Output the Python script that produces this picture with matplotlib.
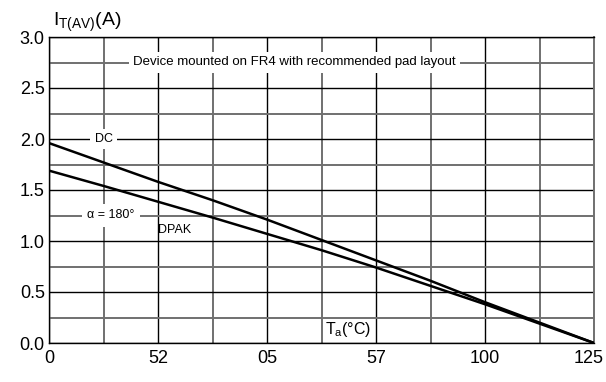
import numpy as np
import matplotlib.pyplot as plt
import matplotlib.transforms as mtransforms
from matplotlib.ticker import MultipleLocator

plt.rcParams['font.family'] = ['Liberation Sans', 'DejaVu Sans']
plt.rcParams['mathtext.fontset'] = 'custom'
plt.rcParams['mathtext.rm'] = 'Liberation Sans'

# ambient temperature (°C) and average on-state current (A)
ta = [0, 12.5, 25, 37.5, 50, 62.5, 75, 87.5, 100, 112.5, 125]
i_dc = [1.96, 1.77, 1.58, 1.40, 1.21, 1.01, 0.81, 0.61, 0.40, 0.20, 0.0]
i_180 = [1.69, 1.54, 1.385, 1.23, 1.07, 0.91, 0.74, 0.56, 0.38, 0.19, 0.0]

xticks = [0, 25, 50, 75, 100, 125]
xticklabels = ['0', '52', '05', '57', '100', '125']
yticks = [0.0, 0.5, 1.0, 1.5, 2.0, 2.5, 3.0]
yticklabels = ['0.0', '0.5', '1.0', '1.5', '2.0', '2.5', '3.0']

fig = plt.figure(figsize=(6.06, 3.82), dpi=100)
ax = fig.add_axes([49/606, 39/382, 545/606, 306/382])

ax.set_xlim(0, 125)
ax.set_ylim(0, 3.0)

ax.xaxis.set_minor_locator(MultipleLocator(12.5))
ax.yaxis.set_minor_locator(MultipleLocator(0.25))
ax.grid(which='minor', color='#707070', lw=1.4, zorder=0)
ax.grid(which='major', color='black', lw=1.0, zorder=0)
ax.set_axisbelow(True)

ax.set_xticks(xticks)
ax.set_xticklabels(xticklabels)
ax.set_yticks(yticks)
ax.set_yticklabels(yticklabels)
ax.tick_params(which='both', length=0, labelsize=13, colors='black')
ax.tick_params(axis='x', pad=5)
ax.tick_params(axis='y', pad=3)
# nudge the last x label left so it stays inside the figure
last = ax.get_xticklabels()[-1]
last.set_transform(last.get_transform() +
                   mtransforms.ScaledTranslation(-5/100, 0, fig.dpi_scale_trans))

for s in ['left', 'bottom', 'top']:
    ax.spines[s].set_color('black')
    ax.spines[s].set_linewidth(1.0)
ax.spines['right'].set_color('#707070')
ax.spines['right'].set_linewidth(1.4)

ax.plot(ta, i_dc, color='black', lw=1.8, zorder=3)
ax.plot(ta, i_180, color='black', lw=1.8, zorder=3)

box = dict(facecolor='white', edgecolor='none', pad=3)
ax.text(56.3, 2.75, 'Device mounted on FR4 with recommended pad layout',
        fontsize=9.5, ha='center', va='center', bbox=box, zorder=4)
ax.text(12.5, 2.0, 'DC', fontsize=9, ha='center', va='center', bbox=box, zorder=4)
ax.text(14.2, 1.25, 'α = 180°', fontsize=9, ha='center', va='center',
        bbox=dict(facecolor='white', edgecolor='none', pad=4), zorder=4)
ax.text(28.9, 1.11, 'DPAK', fontsize=9, ha='center', va='center', zorder=4)
ax.text(63.2, 0.13, r'T$_\mathregular{a}$(°C)', fontsize=11.5, ha='left', va='center',
        bbox=dict(facecolor='white', edgecolor='none', pad=0.5), zorder=4)

fig.text(53/606, 1 - 22/382, r'I$_\mathregular{T(AV)}$(A)', fontsize=14, ha='left', va='center')

fig.savefig('out.png', dpi=100)
